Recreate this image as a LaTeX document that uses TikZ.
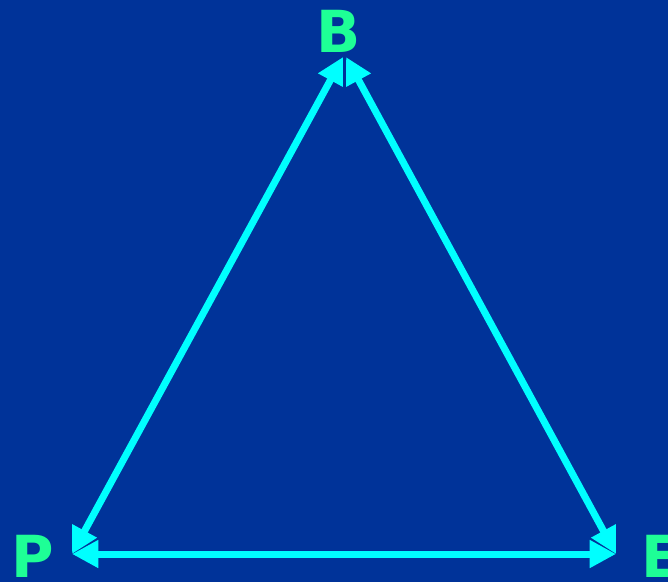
\documentclass[tikz,border=0pt]{standalone}
\usepackage{fontspec}
\setsansfont{DejaVu Sans}
\definecolor{slideBlue}{RGB}{0,51,153}
\definecolor{sideCyan}{RGB}{0,255,255}
\definecolor{vertexGreen}{RGB}{30,255,150}
\usetikzlibrary{arrows.meta,positioning}

\begin{document}
\begin{tikzpicture}[x=0.02cm, y=-0.02cm,
  vx/.style={font=\sffamily\bfseries\fontsize{33}{33}\selectfont, text=vertexGreen, inner sep=0pt},
  side/.style={{Triangle[length=15pt,width=15pt]}-{Triangle[length=15pt,width=15pt]},
               line width=4pt, sideCyan}
]
  \fill[slideBlue] (0,0) rectangle (668,582);
  \useasboundingbox (0,0) rectangle (668,582);

  % corners of the triangle
  \coordinate (bl) at (343,57);
  \coordinate (br) at (346,57);
  \coordinate (p) at (72,554);
  \coordinate (e) at (616,554);

  \node[vx] (lb) at (339,31)  {B};
  \node[vx] (lp) at (33,556)  {P};
  \node[vx] (le) at (661,556) {E};

  \draw[side] (bl) -- (p);
  \draw[side] (br) -- (e);
  \draw[side] (p) -- (e);
\end{tikzpicture}
\end{document}
